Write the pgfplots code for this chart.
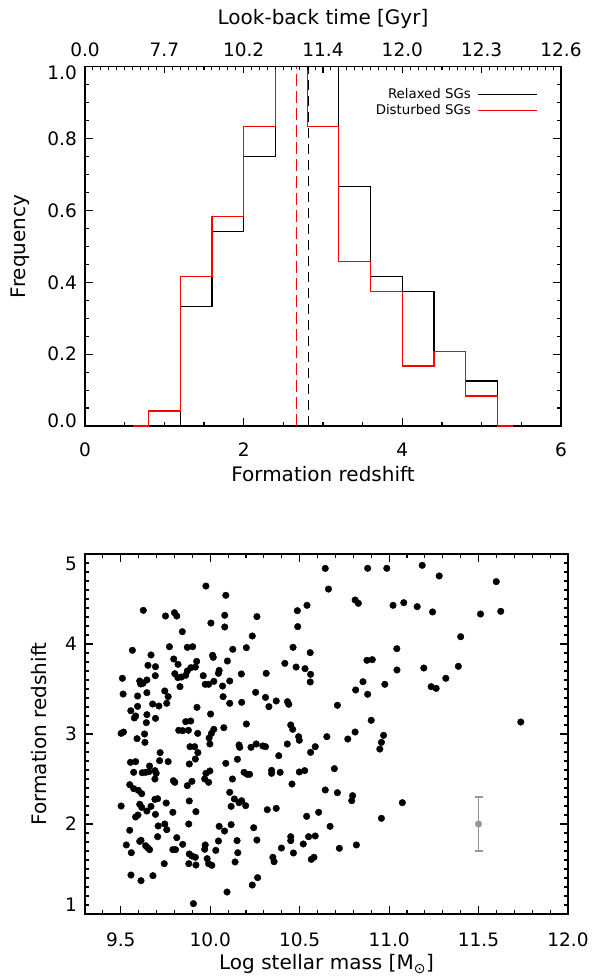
\documentclass[border=0pt]{standalone}
\usepackage{fontspec}
\setmainfont{DejaVu Sans}
\usepackage{pgfplots}
\pgfplotsset{compat=1.18}
\definecolor{idlgray}{RGB}{150,150,150}

\pgfplotsset{
  idl/.style={
    scale only axis,
    axis line style={line width=1.5pt},
    every tick/.style={line width=1.1pt, black},
    major tick length=8pt, minor tick length=4pt,
    tick align=inside,
    tick label style={font=\fontsize{18.5}{18.5}\selectfont, inner sep=0pt},
    label style={font=\fontsize{20}{20}\selectfont},
    /pgf/number format/assume math mode=true,
  },
}

\begin{document}
\begin{tikzpicture}
\useasboundingbox (0,0) rectangle (597pt,977pt);

% --- top: histogram of formation redshift
\begin{axis}[idl,
  at={(85pt,551pt)}, anchor=south west, width=476pt, height=359.3pt,
  xmin=0, xmax=6, ymin=0, ymax=1, clip=false,
  xtick={0,2,4,6}, minor x tick num=3, xtick pos=left,
  ytick={0,0.2,0.4,0.6,0.8,1}, minor y tick num=3,
  yticklabels={\raisebox{5pt}[\height][\depth]{0.0},0.2,0.4,0.6,0.8,\raisebox{-6pt}[\height][\depth]{1.0}},
  xticklabel style={anchor=base, yshift=-31pt},
  yticklabel style={anchor=east, xshift=-8pt},
  xlabel={Formation redshift}, ylabel={Frequency},
  xlabel style={at={(axis description cs:0.5,0)}, anchor=base, yshift=-56pt},
  ylabel style={at={(axis description cs:-0.124,0.5)}, anchor=base},
  legend plot pos=right, legend cell align=right,
  legend image code/.code={\draw[#1] (0pt,0pt) -- (59pt,0pt);},
  legend style={at={(axis description cs:0.952,0.942)}, anchor=north east,
    draw=none, fill=none, inner sep=0pt, row sep=2pt, column sep=6pt,
    font=\fontsize{13.3}{13.3}\selectfont,
    nodes={inner sep=1pt, text height=9.5pt, text depth=2.5pt}},
]
\addplot[const plot, black, line width=1.2pt] coordinates {
  (0.6,0) (1.2,0) (1.2,0.3333) (1.6,0.5417) (2.0,0.75) (2.4,1.0) (2.8,1.0)
  (3.2,0.6667) (3.6,0.4167) (4.0,0.375) (4.4,0.2083) (4.8,0.125) (5.2,0) (5.4,0)
};
\addlegendentry{Relaxed SGs}
\addplot[const plot, red, line width=1.2pt] coordinates {
  (0.6,0) (0.8,0.0417) (1.2,0.4167) (1.6,0.5833) (2.0,0.8333) (2.4,1.0)
  (2.8,0.8333) (3.2,0.4583) (3.6,0.375) (4.0,0.1667) (4.4,0.2083) (4.8,0.0833)
  (5.2,0) (5.4,0)
};
\addlegendentry{Disturbed SGs}
\addplot[forget plot, black, line width=1.1pt, dash pattern=on 10pt off 6pt] coordinates {(2.82,0) (2.82,1)};
\addplot[forget plot, red, line width=1.1pt, dash pattern=on 12pt off 5pt] coordinates {(2.67,0) (2.67,1)};
\end{axis}

% --- top: look-back time scale
\begin{axis}[idl,
  at={(85pt,551pt)}, anchor=south west, width=476pt, height=359.3pt,
  xmin=0, xmax=6, ymin=0, ymax=1,
  axis x line*=top, axis y line=none,
  major tick length=6pt, minor tick length=3pt,
  xtick={0,1,2,3,4,5,6},
  xticklabels={0.0,7.7,10.2,11.4,12.0,12.3,12.6},
  minor xtick={0,0.1,...,6},
  xticklabel style={anchor=base, yshift=9.7pt},
  xlabel={Look-back time [Gyr]},
  xlabel style={at={(axis description cs:0.5,1)}, anchor=base, yshift=41.7pt},
]
\end{axis}

% --- bottom: formation redshift vs stellar mass
\begin{axis}[idl,
  at={(85pt,63pt)}, anchor=south west, width=483pt, height=360pt,
  xmin=9.3, xmax=12, ymin=1, ymax=5,
  xtick={9.5,10,10.5,11,11.5,12},
  xticklabels={9.5,10.0,10.5,11.0,11.5,12.0},
  minor xtick={9.4,9.5,...,11.95},
  ytick={1,2,3,4,5},
  yticklabels={\raisebox{9pt}[\height][\depth]{1},2,3,4,\raisebox{-10pt}[\height][\depth]{5}},
  minor ytick={1.1,1.2,...,4.95},
  xticklabel style={anchor=base, yshift=-32pt},
  yticklabel style={anchor=east, xshift=-8pt},
  xlabel={Log stellar mass [M\textsubscript{⊙}]}, ylabel={Formation redshift},
  xlabel style={at={(axis description cs:0.5,0)}, anchor=base, yshift=-56pt},
  ylabel style={at={(axis description cs:-0.0787,0.5)}, anchor=base},
]
\addplot[only marks, mark=*, mark size=3.3pt, black] coordinates {
(10.643,4.84) (10.661,4.61) (9.976,4.644) (10.087,4.541) (9.626,4.374)
(9.75,4.311) (9.80,4.348) (9.813,4.311) (10.081,4.319) (10.261,4.304)
(10.487,4.37) (10.541,4.43) (10.004,4.233) (10.081,4.189) (10.489,4.193)
(9.844,4.137) (10.235,4.089) (9.565,3.93) (9.772,3.97) (9.872,3.963)
(9.902,3.97) (10.126,3.941) (10.202,3.959) (10.463,3.963) (10.559,3.904)
(9.669,3.878) (10.013,3.874) (10.017,3.852) (9.796,3.833) (9.82,3.774)
(9.924,3.807) (10.096,3.811) (10.417,3.785) (9.652,3.763) (9.694,3.748)
(10.48,3.744) (10.53,3.726) (9.892,3.737) (9.917,3.744) (9.872,3.70)
(10.05,3.707) (10.046,3.674) (9.802,3.67) (9.863,3.652) (9.819,3.626)
(9.839,3.633) (10.174,3.667) (10.313,3.674) (10.561,3.663) (10.559,3.578)
(9.509,3.619) (9.606,3.589) (9.646,3.60) (9.693,3.648) (9.611,3.556)
(9.624,3.563) (9.961,3.648) (9.972,3.552) (9.991,3.552) (10.02,3.585)
(10.069,3.533) (10.109,3.589) (9.831,3.526) (9.513,3.444) (9.646,3.459)
(9.594,3.422) (9.746,3.478) (9.765,3.415) (9.757,3.341) (9.678,3.333)
(9.713,3.311) (9.594,3.307) (9.556,3.259) (9.583,3.20) (9.576,3.178)
(9.646,3.215) (9.694,3.174) (9.643,3.126) (9.926,3.296) (10.072,3.415)
(10.109,3.341) (10.176,3.352) (10.254,3.463) (10.309,3.407) (10.328,3.304)
(10.369,3.367) (10.432,3.359) (10.439,3.33) (10.002,3.222) (10.202,3.111)
(9.863,3.137) (9.891,3.144) (10.45,3.10) (10.461,3.052) (9.824,3.041)
(9.846,3.037) (9.878,3.041) (9.93,3.007) (10.02,3.052) (10.076,3.07)
(10.007,3.007) (9.502,3.007) (9.515,3.022) (9.591,2.948) (9.633,3.00)
(9.635,2.907) (9.994,2.956) (10.494,2.97) (10.498,2.93) (10.652,2.97)
(9.887,2.859) (9.913,2.859) (9.998,2.889) (10.161,2.878) (10.165,2.852)
(10.228,2.852) (10.257,2.889) (10.294,2.867) (10.309,2.859) (10.431,2.889)
(10.587,2.859) (9.72,2.793) (9.554,2.685) (9.583,2.693) (9.717,2.704)
(9.765,2.693) (9.661,2.644) (9.883,2.667) (9.917,2.722) (9.931,2.793)
(10.087,2.674) (10.152,2.719) (10.383,2.759) (10.561,2.796) (9.572,2.574)
(9.62,2.57) (9.639,2.574) (9.657,2.581) (9.691,2.593) (9.698,2.563)
(9.976,2.563) (9.998,2.589) (10.189,2.574) (10.207,2.552) (10.22,2.552)
(10.343,2.596) (10.343,2.563) (10.391,2.574) (10.498,2.578) (10.528,2.593)
(9.691,2.50) (9.55,2.437) (9.572,2.393) (9.598,2.374) (9.617,2.337)
(9.794,2.481) (9.802,2.463) (9.872,2.426) (9.898,2.474) (9.969,2.50)
(9.991,2.463) (10.124,2.50) (10.109,2.352) (10.135,2.278) (10.161,2.237)
(10.176,2.259) (10.457,2.444) (10.643,2.378) (9.691,2.274) (9.706,2.281)
(9.883,2.256) (9.502,2.20) (9.606,2.219) (9.754,2.233) (9.617,2.185)
(9.669,2.196) (9.646,2.144) (9.596,2.10) (9.583,2.078) (9.694,2.107)
(9.791,2.13) (9.92,2.137) (10.117,2.196) (10.198,2.204) (10.319,2.159)
(10.369,2.174) (10.539,2.085) (10.606,2.13) (9.88,2.00) (9.709,1.978)
(9.746,2.00) (9.55,1.93) (9.757,1.937) (10.05,1.974) (10.08,1.922)
(10.117,1.993) (10.243,1.959) (9.706,1.859) (9.813,1.848) (9.531,1.767)
(9.559,1.681) (9.606,1.807) (9.613,1.819) (9.639,1.759) (9.65,1.737)
(9.661,1.715) (9.791,1.715) (9.806,1.715) (9.846,1.774) (9.743,1.559)
(9.972,1.767) (9.969,1.719) (10.031,1.707) (10.046,1.811) (10.15,1.815)
(10.154,1.681) (10.261,1.822) (10.398,1.733) (10.45,1.859) (10.45,1.815)
(10.465,1.678) (10.52,1.778) (10.55,1.859) (10.587,1.867) (10.565,1.607)
(10.58,1.63) (9.883,1.667) (9.898,1.644) (9.917,1.63) (9.88,1.559)
(9.92,1.544) (9.983,1.615) (9.991,1.559) (10.009,1.541) (10.139,1.578)
(10.35,1.63) (10.357,1.581) (9.557,1.433) (9.68,1.426) (9.613,1.37)
(10.235,1.322) (10.265,1.404) (10.094,1.244) (9.906,1.115) (10.88,4.841)
(10.987,4.841) (11.185,4.874) (11.28,4.756) (11.599,4.693) (10.81,4.489)
(10.828,4.452) (11.022,4.43) (11.082,4.459) (11.157,4.415) (11.243,4.356)
(11.511,4.333) (11.624,4.363) (11.40,4.081) (11.043,3.948) (10.876,3.819)
(10.906,3.826) (11.044,3.711) (11.194,3.733) (11.387,3.752) (10.854,3.581)
(10.976,3.552) (11.317,3.619) (10.813,3.489) (10.88,3.441) (11.235,3.526)
(11.263,3.507) (10.711,3.319) (10.90,3.152) (11.736,3.133) (10.81,3.022)
(10.769,2.944) (10.969,2.985) (10.957,2.907) (10.948,2.833) (10.694,2.615)
(10.711,2.348) (10.796,2.315) (10.791,2.259) (11.074,2.237) (10.67,1.974)
(10.957,2.063) (10.722,1.73) (10.817,1.767)
};
\addplot[only marks, mark=*, mark size=3.3pt, idlgray,
  error bars/.cd, y dir=both, y explicit,
  error bar style={line width=1.1pt, idlgray},
  error mark options={rotate=90, mark size=4pt, line width=1.1pt, idlgray}]
  coordinates {(11.5,2) +- (0,0.3)};
\end{axis}
\end{tikzpicture}
\end{document}
